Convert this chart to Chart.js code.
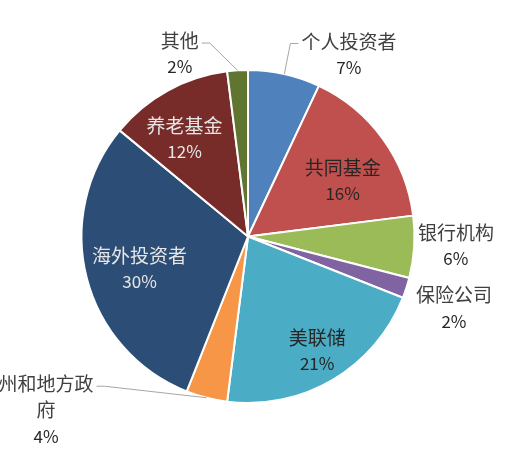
<!DOCTYPE html>
<html>
<head>
<meta charset="utf-8">
<script src="https://cdn.jsdelivr.net/npm/chart.js@4"></script>
<style>
  html, body { margin: 0; padding: 0; background: #fff; }
  #wrap { width: 518px; height: 461px; position: relative; }
</style>
</head>
<body>
<div id="wrap"><canvas id="pieChart"></canvas></div>
<script>
// Holders of US Treasury debt (share, %)
const categories = ['个人投资者', '共同基金', '银行机构', '保险公司', '美联储', '州和地方政府', '海外投资者', '养老基金', '其他'];
const shares = [7, 16, 6, 2, 21, 4, 30, 12, 2];
const sliceColors = ['#4F81BD', '#C0504D', '#9BBB59', '#8064A2', '#4BACC6', '#F79646', '#2C4D75', '#772C2A', '#5F7530'];

// label placement relative to each slice: f = fraction of radius, da = angle shift (deg),
// wrap = max chars per line, line = draw leader line, color = text colour
const labelPlacement = [
    { f: 1.25, da: 16.4, line: true, color: '#404040' },
    { f: 0.66, da: 5.5, color: '#262626' },
    { f: 1.25, da: -1, color: '#404040' },
    { f: 1.31, da: 1.2, color: '#404040' },
    { f: 0.80, da: -0.7, color: '#262626' },
    { f: 1.60, da: 34.9, wrap: 5, line: true, color: '#404040' },
    { f: 0.68, da: -2.3, color: '#e6e6e6' },
    { f: 0.70, da: -4.2, color: '#e6e6e6' },
    { f: 1.17, da: -16.9, line: true, color: '#404040' }
];

const FONT = '"Noto Sans CJK SC", "Noto Sans", sans-serif';
const NAME_FONT = '19px ' + FONT;
const PCT_FONT = '17px ' + FONT;
const LINE_H = 26;

// Draw slice labels from the arc geometry
const sliceLabels = {
    id: 'sliceLabels',
    afterDatasetsDraw(chart) {
        const ctx = chart.ctx;
        const arcs = chart.getDatasetMeta(0).data;
        ctx.save();
        ctx.textAlign = 'center';
        ctx.textBaseline = 'middle';
        arcs.forEach((arc, i) => {
            const p = labelPlacement[i];
            const { x, y, startAngle, endAngle, outerRadius } =
                arc.getProps(['x', 'y', 'startAngle', 'endAngle', 'outerRadius'], true);
            const mid = (startAngle + endAngle) / 2;
            const a = mid + p.da * Math.PI / 180;
            const tx = x + Math.cos(a) * outerRadius * p.f;
            const ty = y + Math.sin(a) * outerRadius * p.f;

            const name = categories[i];
            const lines = [];
            if (p.wrap) {
                for (let k = 0; k < name.length; k += p.wrap) lines.push(name.slice(k, k + p.wrap));
            } else {
                lines.push(name);
            }
            lines.push(shares[i] + '%');

            const top = ty - (lines.length - 1) * LINE_H / 2;

            ctx.font = NAME_FONT;
            if (p.line) {
                const w = ctx.measureText(lines[0]).width;
                const ex = x + Math.cos(mid) * outerRadius;
                const ey = y + Math.sin(mid) * outerRadius;
                const toRight = tx > ex;
                const ax = toRight ? tx - w / 2 - 3 : tx + w / 2 + 3;
                const bx = toRight ? ax - 8 : ax + 8;
                ctx.beginPath();
                ctx.strokeStyle = '#a6a6a6';
                ctx.lineWidth = 1;
                ctx.moveTo(ex, ey);
                ctx.lineTo(bx, top + 2);
                ctx.lineTo(ax, top + 2);
                ctx.stroke();
            }

            lines.forEach((t, k) => {
                const isPct = k === lines.length - 1;
                ctx.font = isPct ? PCT_FONT : NAME_FONT;
                ctx.fillStyle = isPct && p.color === '#404040' ? '#262626' : p.color;
                ctx.fillText(t, tx, top + k * LINE_H);
            });
        });
        ctx.restore();
    }
};

new Chart(document.getElementById('pieChart'), {
    type: 'pie',
    data: {
        labels: categories,
        datasets: [{
            data: shares,
            backgroundColor: sliceColors,
            borderColor: '#ffffff',
            borderWidth: 2
        }]
    },
    options: {
        responsive: true,
        maintainAspectRatio: false,
        animation: false,
        layout: { padding: { top: 69, bottom: 57, left: 0, right: 22 } },
        plugins: {
            legend: { display: false },
            tooltip: { enabled: false }
        }
    },
    plugins: [sliceLabels]
});
</script>
</body>
</html>
